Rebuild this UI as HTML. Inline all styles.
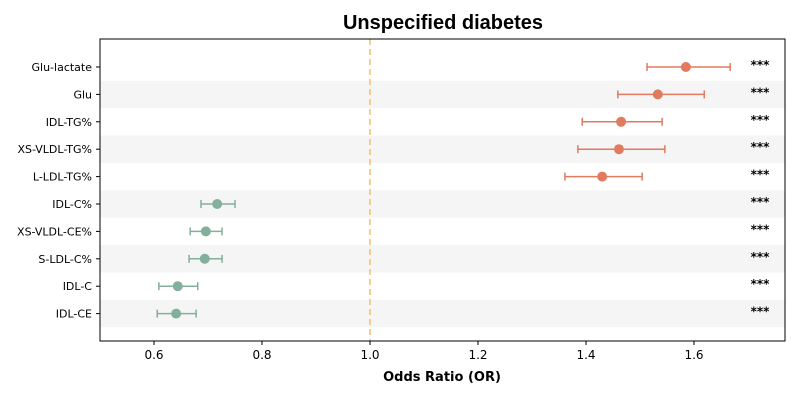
<!DOCTYPE html>
<html><head><meta charset="utf-8"><style>
body{margin:0;background:#fff;}
svg{display:block;font-family:"DejaVu Sans","Liberation Sans",sans-serif;}
</style></head><body>
<svg id="chart" width="800" height="400">
<text x="443" y="29" text-anchor="middle" font-size="20" font-weight="bold" font-family="Liberation Sans, sans-serif">Unspecified diabetes</text>
<g id="bands"></g><g id="grid"></g><g id="marks"></g><g id="axes"></g>
<text x="442" y="381" text-anchor="middle" font-size="13" font-weight="bold">Odds Ratio (OR)</text>
</svg>
<script>
const labels=["Glu-lactate","Glu","IDL-TG%","XS-VLDL-TG%","L-LDL-TG%","IDL-C%","XS-VLDL-CE%","S-LDL-C%","IDL-C","IDL-CE"];
const orVals=[1.585,1.533,1.465,1.461,1.430,0.717,0.696,0.694,0.644,0.641];
const ciLow=[1.513,1.459,1.393,1.385,1.361,0.687,0.667,0.665,0.609,0.606];
const ciHigh=[1.667,1.619,1.541,1.546,1.504,0.750,0.726,0.726,0.681,0.678];
const sig=["***","***","***","***","***","***","***","***","***","***"];
const xTicks=[0.6,0.8,1.0,1.2,1.4,1.6];
const NS="http://www.w3.org/2000/svg";
const L=100,R=785,T=39,B=341;
const x=v=>L+(v-0.5)*540;
const y=i=>67+i*27.4;
function mk(tag,attrs,parent,txt){const e=document.createElementNS(NS,tag);for(const k in attrs)e.setAttribute(k,attrs[k]);if(txt!==undefined)e.textContent=txt;document.getElementById(parent).appendChild(e);return e;}
labels.forEach((lab,i)=>{
 if(i%2===1){const b=mk('rect',{x:L,y:y(i)-13.7,width:R-L,height:27.4,fill:'#f5f5f5'},'bands');
  
  }
 const c=orVals[i]>1?'#e07b5f':'#82b09a';
 const g=mk('g',{},'marks');
 
 
 const yy=y(i);
 [['line',{x1:x(ciLow[i]),x2:x(ciHigh[i]),y1:yy,y2:yy}],['line',{x1:x(ciLow[i]),x2:x(ciLow[i]),y1:yy-4,y2:yy+4}],['line',{x1:x(ciHigh[i]),x2:x(ciHigh[i]),y1:yy-4,y2:yy+4}]].forEach(([t,a])=>{a.stroke=c;a['stroke-width']=1.5;const e=document.createElementNS(NS,t);for(const k in a)e.setAttribute(k,a[k]);g.appendChild(e);});
 const ci=document.createElementNS(NS,'circle');ci.setAttribute('cx',x(orVals[i]));ci.setAttribute('cy',yy);ci.setAttribute('r',5);ci.setAttribute('fill',c);g.appendChild(ci);
 const s=mk('text',{x:760,y:yy+2,'text-anchor':'middle','font-size':12,'font-weight':'bold'},'marks',sig[i]);
 
 
 const tl=mk('text',{x:L-8,y:yy+4,'text-anchor':'end','font-size':11},'axes',lab);
 
 
 mk('line',{x1:L-4,x2:L,y1:yy,y2:yy,stroke:'#000'},'axes');
});
const ref=mk('line',{x1:x(1),x2:x(1),y1:T,y2:B,stroke:'#f0c070','stroke-width':1.5,'stroke-dasharray':'6,4'},'grid');


const fr=mk('rect',{x:L,y:T,width:R-L,height:B-T,fill:'none',stroke:'#000','stroke-width':1},'axes');


xTicks.forEach(v=>{
 mk('line',{x1:x(v),x2:x(v),y1:B,y2:B+4,stroke:'#000'},'axes');
 const t=mk('text',{x:x(v),y:B+18,'text-anchor':'middle','font-size':12},'axes',v.toFixed(1));
 
 
});
</script>
</body></html>
